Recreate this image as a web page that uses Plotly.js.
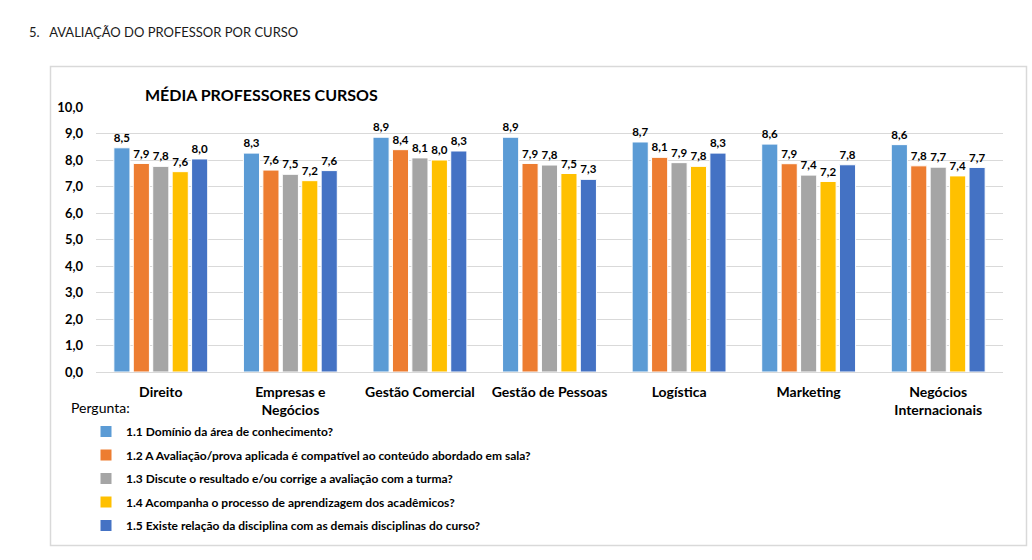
<!DOCTYPE html>
<html>
<head>
<meta charset="utf-8">
<script src="https://cdn.plot.ly/plotly-3.0.1.min.js"></script>
<style>
html,body{margin:0;padding:0;background:#fff;}
#chart{width:1032px;height:560px;}
</style>
</head>
<body>
<div id="chart"></div>
<script>
// ---- Data ----
const cursos = ["Direito", "Empresas e<br>Negócios", "Gestão Comercial", "Gestão de Pessoas", "Logística", "Marketing", "Negócios<br>Internacionais"];
const perguntas = [
  "1.1 Domínio da área de conhecimento?",
  "1.2 A Avaliação/prova aplicada é compatível ao conteúdo abordado em sala?",
  "1.3 Discute o resultado e/ou corrige a avaliação com a turma?",
  "1.4 Acompanha o processo de aprendizagem dos acadêmicos?",
  "1.5 Existe relação da disciplina com as demais disciplinas do curso?"
];
const p11 = [8.46, 8.26, 8.86, 8.86, 8.68, 8.60, 8.58];
const p12 = [7.87, 7.62, 8.39, 7.87, 8.10, 7.86, 7.78];
const p13 = [7.76, 7.46, 8.08, 7.81, 7.90, 7.43, 7.73];
const p14 = [7.56, 7.22, 8.00, 7.49, 7.76, 7.19, 7.40];
const p15 = [8.04, 7.60, 8.34, 7.27, 8.26, 7.82, 7.72];
const cores = ["#5B9BD5", "#ED7D31", "#A5A5A5", "#FFC000", "#4472C4"];
const series = [p11, p12, p13, p14, p15];
const yTicks = [0,1,2,3,4,5,6,7,8,9,10];

const FONT = "Lato, 'Open Sans', sans-serif";

const traces = series.map((vals, i) => ({
  type: "bar",
  name: perguntas[i],
  x: cursos,
  y: vals,
  legendgroup: "g" + i,
  marker: {color: cores[i], line: {color: "#ffffff", width: 1}},
  texttemplate: "%{y:.1f}",
  textposition: "outside",
  cliponaxis: false,
  textfont: {family: FONT, size: 12, color: "#000", weight: 700},
  hoverinfo: "x+y+name"
}));

// pixel helpers for layout positions (plot area 96..1003 x, 107..372 y)
const L = 96, R = 1003, T = 107, B = 372;
const px = v => (v - L) / (R - L);
const py = v => (B - v) / (B - T);

const layout = {
  width: 1032, height: 560,
  margin: {l: L, r: 1032 - R, t: T, b: 560 - B},
  paper_bgcolor: "#fff", plot_bgcolor: "#fff",
  separators: ",.",
  barmode: "group",
  bargap: 0.25,
  bargroupgap: 0.17,
  font: {family: FONT, color: "#000"},
  title: {
    text: "<b>MÉDIA PROFESSORES CURSOS</b>",
    font: {family: FONT, size: 16, color: "#000"},
    xref: "container", yref: "container",
    x: 145 / 1032, xanchor: "left",
    y: 1 - 95 / 560, yanchor: "middle"
  },
  xaxis: {
    type: "category",
    automargin: false,
    showgrid: false, zeroline: false, showline: false,
    ticks: "",
    tickfont: {family: FONT, size: 14, color: "#000", weight: 700},
    ticklabelstandoff: 10
  },
  yaxis: {
    range: [0, 10],
    automargin: false,
    tickvals: yTicks,
    tickformat: ".1f",
    showgrid: true, gridcolor: "#d9d9d9", gridwidth: 1,
    zeroline: true, zerolinecolor: "#d9d9d9", zerolinewidth: 1,
    showline: false, ticks: "",
    tickfont: {family: FONT, size: 13, color: "#000", weight: 700},
    ticklabelstandoff: 12
  },
  showlegend: true,
  legend: {
    orientation: "v",
    x: px(86), xanchor: "left",
    y: py(417), yanchor: "top",
    font: {family: FONT, size: 12, color: "#000", weight: 700},
    tracegroupgap: 4.5,
    itemclick: false, itemdoubleclick: false,
    bgcolor: "rgba(0,0,0,0)"
  },
  annotations: [
    {
      text: "5.   AVALIAÇÃO DO PROFESSOR POR CURSO",
      xref: "paper", yref: "paper",
      x: px(27), xanchor: "left",
      y: py(32), yanchor: "middle",
      showarrow: false,
      font: {family: FONT, size: 13, color: "#1a1a1a"}
    },
    {
      text: "Pergunta:",
      xref: "paper", yref: "paper",
      x: px(69), xanchor: "left",
      y: py(407), yanchor: "middle",
      showarrow: false,
      font: {family: FONT, size: 14, color: "#000"}
    }
  ],
  shapes: [
    {
      type: "rect", xref: "paper", yref: "paper",
      x0: px(50.5), x1: px(1026.5), y0: py(66.5), y1: py(545.5),
      line: {color: "#d9d9d9", width: 1.5},
      fillcolor: "rgba(0,0,0,0)",
      layer: "below"
    }
  ]
};

Plotly.newPlot("chart", traces, layout, {displayModeBar: false, staticPlot: true});
</script>
</body>
</html>
